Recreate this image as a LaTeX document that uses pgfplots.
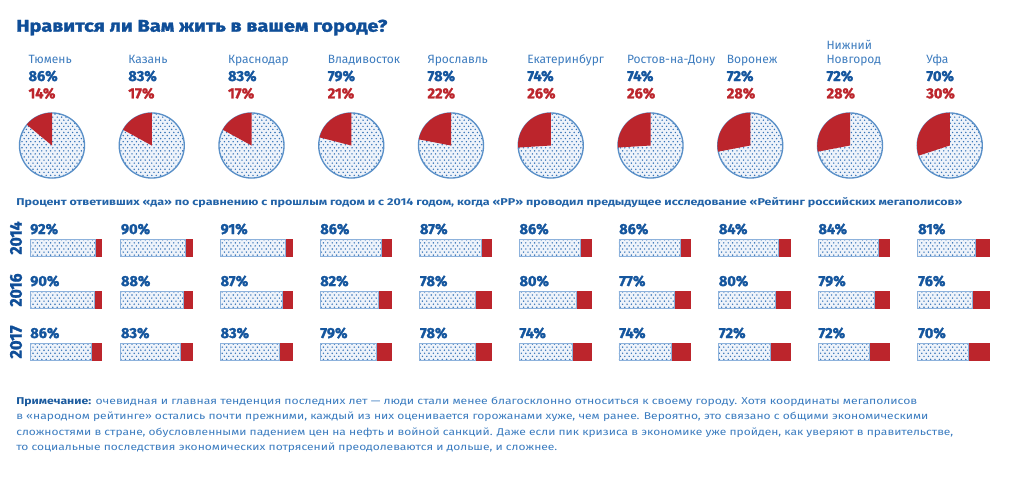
\documentclass[border=0pt]{standalone}
\usepackage{pgfplots}
\pgfplotsset{compat=1.18}
\usepackage{pgfplotstable}
\usepackage{graphicx}
\usetikzlibrary{patterns}
\usepackage{fontspec}
\setmainfont{Fira Sans}
\newfontfamily\heavyfont{Fira Sans}[BoldFeatures={FakeBold=1.6}]

\definecolor{titleblue}{HTML}{0F4E98}
\definecolor{pctblue}{HTML}{15569E}
\definecolor{nameblue}{HTML}{3D7CBF}
\definecolor{subblue}{HTML}{2263A8}
\definecolor{noteblue}{HTML}{3B7CC0}
\definecolor{notedark}{HTML}{1A5A9E}
\definecolor{myred}{HTML}{BC252C}
\definecolor{pieline}{HTML}{5A90C8}
\definecolor{barline}{HTML}{8DB2DC}
\definecolor{dotblue}{HTML}{3573B8}
\definecolor{barbg}{HTML}{EEF3FA}

\pgfdeclarepatternformonly{sdots}{\pgfqpoint{-0.7pt}{-0.7pt}}{\pgfqpoint{2.5pt}{3.2pt}}{\pgfqpoint{3.3pt}{4.6pt}}{%
  \pgfpathcircle{\pgfqpoint{0pt}{0pt}}{0.6pt}%
  \pgfpathcircle{\pgfqpoint{1.65pt}{2.3pt}}{0.6pt}%
  \pgfusepath{fill}}

\newcommand\pctfont{\fontsize{10.9pt}{12pt}\selectfont\heavyfont\bfseries}
\newcommand\namefont{\fontsize{9pt}{10pt}\selectfont}
\newcommand\notefont{\fontsize{7.4pt}{9pt}\selectfont}

% 2017 results (pies): yes / no
\pgfplotstableread{
idx yes no
0 86 14
1 83 17
2 83 17
3 79 21
4 78 22
5 74 26
6 74 26
7 72 28
8 72 28
9 70 30
}\pietab

% bars: y position (2014, 2016, 2017 rows), column offset, yes, no
\pgfplotstableread{
y off yes no
247.5 0 92 8
247.5 126.9 90 10
247.5 266.2 91 9
247.5 405.6 86 14
247.5 545.0 87 13
247.5 684.3 86 14
247.5 823.7 86 14
247.5 963.1 84 16
247.5 1102.4 84 16
247.5 1241.8 81 19
299.5 0 90 10
299.5 126.9 88 12
299.5 266.2 87 13
299.5 405.6 82 18
299.5 545.0 78 22
299.5 684.3 80 20
299.5 823.7 77 23
299.5 963.1 80 20
299.5 1102.4 79 21
299.5 1241.8 76 24
351.5 0 86 14
351.5 126.9 83 17
351.5 266.2 83 17
351.5 405.6 79 21
351.5 545.0 78 22
351.5 684.3 74 26
351.5 823.7 74 26
351.5 963.1 72 28
351.5 1102.4 72 28
351.5 1241.8 70 30
}\bartab

\begin{document}
\begin{tikzpicture}
\useasboundingbox (0,0) rectangle (768pt,359.25pt);
\fill[white] (0,0) rectangle (768pt,359.25pt);

% ---------- pies and text, pixel coordinates ----------
\begin{axis}[at={(0,0)}, anchor=south west, width=768pt, height=359.25pt,
  scale only axis, hide axis, clip=false,
  xmin=0, xmax=1024, ymin=0, ymax=479, y dir=reverse]

\node[anchor=base west, inner sep=0pt, text=titleblue] at (axis cs:16,31.7)
  {\resizebox{278.25pt}{\height}{\fontsize{12.7pt}{14pt}\selectfont\heavyfont\bfseries Нравится ли Вам жить в вашем городе?}};

\node[anchor=base west, inner sep=0pt, text=nameblue, font=\namefont] at (axis cs:28.3,63.3) {Тюмень};
\node[anchor=base west, inner sep=0pt, text=nameblue, font=\namefont] at (axis cs:128.0,63.3) {Казань};
\node[anchor=base west, inner sep=0pt, text=nameblue, font=\namefont] at (axis cs:227.8,63.3) {Краснодар};
\node[anchor=base west, inner sep=0pt, text=nameblue, font=\namefont] at (axis cs:327.5,63.3) {Владивосток};
\node[anchor=base west, inner sep=0pt, text=nameblue, font=\namefont] at (axis cs:427.3,63.3) {Ярославль};
\node[anchor=base west, inner sep=0pt, text=nameblue, font=\namefont] at (axis cs:527.0,63.3) {Екатеринбург};
\node[anchor=base west, inner sep=0pt, text=nameblue, font=\namefont] at (axis cs:626.8,63.3) {Ростов-на-Дону};
\node[anchor=base west, inner sep=0pt, text=nameblue, font=\namefont] at (axis cs:726.5,63.3) {Воронеж};
\node[anchor=base west, inner sep=0pt, text=nameblue, font=\namefont] at (axis cs:826.3,49.0) {Нижний};
\node[anchor=base west, inner sep=0pt, text=nameblue, font=\namefont] at (axis cs:826.3,63.3) {Новгород};
\node[anchor=base west, inner sep=0pt, text=nameblue, font=\namefont] at (axis cs:926.0,63.3) {Уфа};

\pgfplotsinvokeforeach{0,...,9}{
  \pgfplotstablegetelem{#1}{yes}\of\pietab \let\vyes\pgfplotsretval
  \pgfplotstablegetelem{#1}{no}\of\pietab \let\vno\pgfplotsretval
  \pgfmathsetmacro\cx{52+99.75*#1}
  \pgfmathsetmacro\tx{28.3+99.75*#1}
  \edef\temp{%
    \noexpand\fill[fill=barbg, postaction={pattern=sdots, pattern color=dotblue}] (axis cs:\cx,145.5) circle[radius=24.4pt];
    \noexpand\draw[pieline, line width=1pt] (axis cs:\cx,145.5) circle[radius=24.4pt];
    \noexpand\fill[myred] (axis cs:\cx,145.5) -- ++(90:24.6pt) arc[start angle=90, delta angle=3.6*\vno, radius=24.6pt] -- cycle;
    \noexpand\node[anchor=base west, inner sep=0pt, text=pctblue, font=\noexpand\pctfont] at (axis cs:\tx,81) {\vyes\%};
    \noexpand\node[anchor=base west, inner sep=0pt, text=myred, font=\noexpand\pctfont] at (axis cs:\tx,98.3) {\vno\%};
  }\temp
}

\node[anchor=base west, inner sep=0pt, text=subblue] at (axis cs:16,205)
  {\resizebox{709.5pt}{\height}{\fontsize{7.4pt}{9pt}\selectfont\bfseries Процент ответивших «да» по сравнению с прошлым годом и с 2014 годом, когда «РР» проводил предыдущее исследование «Рейтинг российских мегаполисов»}};

\node[rotate=90, inner sep=0pt, text=titleblue] at (axis cs:16,238) {\resizebox{24.75pt}{8.8pt}{\heavyfont\bfseries 2014}};
\node[rotate=90, inner sep=0pt, text=titleblue] at (axis cs:16,290) {\resizebox{24.75pt}{8.8pt}{\heavyfont\bfseries 2016}};
\node[rotate=90, inner sep=0pt, text=titleblue] at (axis cs:16,342) {\resizebox{24.75pt}{8.8pt}{\heavyfont\bfseries 2017}};

\node[anchor=base west, inner sep=0pt, text=noteblue] at (axis cs:16,404.3)
  {\resizebox{675.75pt}{\height}{\notefont\textcolor{notedark}{\bfseries Примечание:} очевидная и главная тенденция последних лет — люди стали менее благосклонно относиться к своему городу. Хотя координаты мегаполисов}};
\node[anchor=base west, inner sep=0pt, text=noteblue] at (axis cs:16,419.7)
  {\resizebox{684pt}{\height}{\notefont в «народном рейтинге» остались почти прежними, каждый из них оценивается горожанами хуже, чем ранее. Вероятно, это связано с общими экономическими}};
\node[anchor=base west, inner sep=0pt, text=noteblue] at (axis cs:16,435)
  {\resizebox{702.75pt}{\height}{\notefont сложностями в стране, обусловленными падением цен на нефть и войной санкций. Даже если пик кризиса в экономике уже пройден, как уверяют в правительстве,}};
\node[anchor=base west, inner sep=0pt, text=noteblue] at (axis cs:16,450.3)
  {\resizebox{405.75pt}{\height}{\notefont то социальные последствия экономических потрясений преодолеваются и дольше, и сложнее.}};
\end{axis}

% ---------- bars: x in percent units (100 units = 71.5 px) ----------
\begin{axis}[at={(0,0)}, anchor=south west, width=768pt, height=359.25pt,
  scale only axis, hide axis, clip=false,
  xmin=-41.958, xmax=1390.21, ymin=0, ymax=479, y dir=reverse,
  xbar stacked, bar width=17]
\addplot[draw=none, fill=none] table[x=off, y=y] {\bartab};
\addplot[fill=barbg, draw=barline, line width=0.6pt,
  postaction={pattern=sdots, pattern color=dotblue}] table[x=yes, y=y] {\bartab};
\addplot[fill=myred, draw=myred, line width=0.4pt] table[x=no, y=y] {\bartab};

\pgfplotsinvokeforeach{0,...,29}{
  \pgfplotstablegetelem{#1}{off}\of\bartab \let\voff\pgfplotsretval
  \pgfplotstablegetelem{#1}{yes}\of\bartab \let\vyes\pgfplotsretval
  \pgfplotstablegetelem{#1}{y}\of\bartab \let\vy\pgfplotsretval
  \pgfmathsetmacro\vty{\vy-13.5}
  \edef\temp{%
    \noexpand\node[anchor=base west, inner sep=0pt, text=pctblue, font=\noexpand\pctfont] at (axis cs:\voff,\vty) {\vyes\%};
  }\temp
}
\end{axis}
\end{tikzpicture}
\end{document}
